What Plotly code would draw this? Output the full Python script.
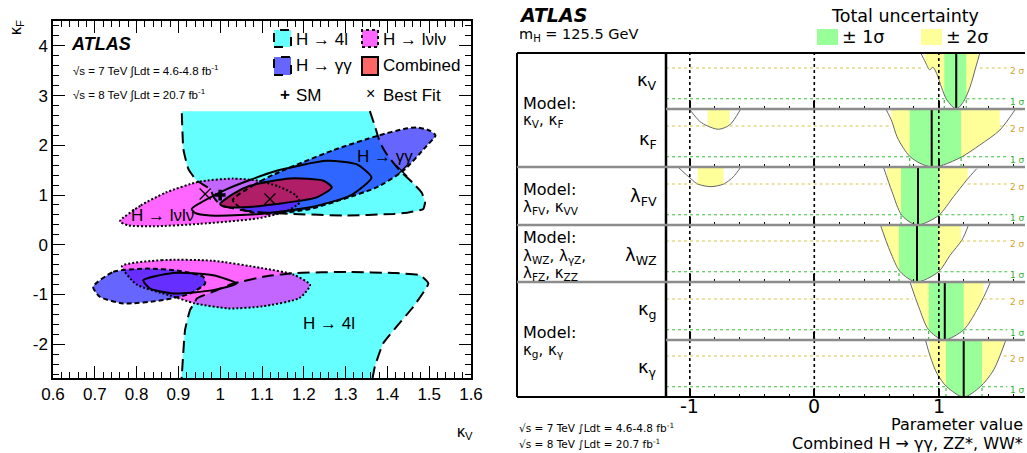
import numpy as np
import plotly.graph_objects as go

W, H = 1027, 453
FONT = "Liberation Sans"
FONT_R = "DejaVu Sans"

# ================= Left panel: kappa_F vs kappa_V contours =================
h4l_up_kv = [1.358, 1.370, 1.382, 1.400, 1.430, 1.460, 1.482, 1.490, 1.486, 1.450, 1.414, 1.295, 1.175, 1.100, 1.050, 1.000, 0.985, 0.976, 0.944, 0.924, 0.912, 0.908]
h4l_up_kf = [2.686, 2.390, 2.060, 1.800, 1.490, 1.250, 1.050, 0.850, 0.720, 0.650, 0.620, 0.587, 0.620, 0.650, 0.700, 0.800, 0.950, 1.120, 1.290, 1.520, 1.920, 2.686]
h4l_lo_kv = [0.906, 0.908, 0.916, 0.928, 0.940, 0.944, 0.990, 1.031, 1.111, 1.183, 1.303, 1.420, 1.478, 1.498, 1.462, 1.422, 1.390, 1.370, 1.360]
h4l_lo_kf = [-2.90, -2.65, -1.71, -1.31, -1.15, -1.08, -0.92, -0.78, -0.633, -0.567, -0.547, -0.57, -0.613, -0.78, -1.247, -1.647, -1.98, -2.45, -2.90]
lvlv_up_kv = [0.76, 0.81, 0.87, 0.95, 1.03, 1.09, 1.14, 1.18, 1.19, 1.16, 1.09, 0.95, 0.84, 0.78, 0.76]
lvlv_up_kf = [0.47, 0.79, 1.05, 1.27, 1.33, 1.29, 1.17, 1.00, 0.85, 0.68, 0.53, 0.42, 0.37, 0.39, 0.47]
lvlv_lo_kv = [0.765, 0.86, 0.98, 1.10, 1.175, 1.215, 1.19, 1.10, 1.02, 0.94, 0.88, 0.80, 0.765]
lvlv_lo_kf = [-0.43, -0.31, -0.32, -0.47, -0.60, -0.81, -1.07, -1.24, -1.28, -1.18, -1.02, -0.80, -0.43]
gg_up_kv = [1.03, 1.08, 1.13, 1.27, 1.38, 1.44, 1.47, 1.50, 1.515, 1.494, 1.438, 1.374, 1.295, 1.215, 1.119, 1.06, 1.03]
gg_up_kf = [0.90, 1.20, 1.42, 1.90, 2.20, 2.33, 2.36, 2.30, 2.20, 1.99, 1.487, 1.153, 0.92, 0.72, 0.62, 0.68, 0.90]
gg_lo_kv = [0.696, 0.744, 0.824, 0.904, 0.96, 0.964, 0.928, 0.864, 0.768, 0.712, 0.696]
gg_lo_kf = [-0.847, -0.547, -0.48, -0.527, -0.647, -0.78, -0.98, -1.113, -1.18, -1.047, -0.847]
comb68_up_kv = [1.0, 1.03, 1.071, 1.167, 1.247, 1.267, 1.231, 1.135, 1.055, 1.007, 1.0]
comb68_up_kf = [0.82, 1.02, 1.187, 1.333, 1.287, 1.153, 0.953, 0.82, 0.753, 0.773, 0.82]
comb95_up_kv = [0.932, 1.016, 1.135, 1.255, 1.326, 1.362, 1.311, 1.215, 1.095, 0.976, 0.94, 0.932]
comb95_up_kf = [0.72, 1.12, 1.487, 1.687, 1.62, 1.353, 0.987, 0.753, 0.62, 0.587, 0.64, 0.72]
comb95_lo_kv = [0.816, 0.888, 0.983, 1.039, 0.983, 0.888, 0.832, 0.816]
comb95_lo_kf = [-0.713, -0.567, -0.613, -0.78, -0.913, -0.98, -0.88, -0.713]
bestfit_kv = [1.119, 0.964, 1.434]
bestfit_kf = [0.92, 1.02, 1.49]
sm_kv = [1.0]
sm_kf = [1.0]
kv_ticks = [0.6, 0.7, 0.8, 0.9, 1.0, 1.1, 1.2, 1.3, 1.4, 1.5, 1.6]
kv_ticktext = ["0.6", "0.7", "0.8", "0.9", "1", "1.1", "1.2", "1.3", "1.4", "1.5", "1.6"]
kf_ticks = [-2, -1, 0, 1, 2, 3, 4]
kf_ticktext = ["-2", "-1", "0", "1", "2", "3", "4"]

# ================= Right panel: likelihood scans =================
param_labels = ["κ<sub>V</sub>", "κ<sub>F</sub>", "λ<sub>FV</sub>", "λ<sub>WZ</sub>", "κ<sub>g</sub>", "κ<sub>γ</sub>"]
kV_x = [0.851, 0.892, 0.926, 0.953, 0.985, 1.023, 1.064, 1.14, 1.199, 1.253, 1.293, 1.333, 1.36]
kV_y = [5.57, 4.57, 3.83, 4.07, 3.4, 2.07, 0.9, 0.0, 0.73, 2.23, 3.9, 5.57, 6.5]
kF_x = [0.578, 0.624, 0.664, 0.717, 0.77, 0.849, 0.943, 1.036, 1.186, 1.33, 1.49, 1.61]
kF_y = [5.6, 4.42, 2.96, 1.82, 1.0, 0.36, 0.0, 0.2, 1.0, 2.15, 3.6, 5.55]
kF2_x = [-1.0, -0.92, -0.857, -0.77, -0.68, -0.594]
kF2_y = [5.6, 4.45, 4.0, 3.68, 4.1, 5.6]
lFV_x = [0.557, 0.624, 0.704, 0.825, 0.998, 1.118, 1.225, 1.305]
lFV_y = [5.6, 3.26, 0.93, 0.0, 0.93, 2.76, 4.4, 5.5]
lFV2_x = [-1.09, -0.99, -0.937, -0.83, -0.728, -0.65, -0.594]
lFV2_y = [5.6, 4.5, 4.0, 3.74, 4.0, 4.7, 5.6]
lWZ_x = [0.53, 0.61, 0.69, 0.82, 0.998, 1.09, 1.186, 1.24]
lWZ_y = [5.6, 2.96, 1.0, 0.0, 1.0, 2.6, 4.1, 5.6]
kg_x = [0.77, 0.838, 0.918, 1.04, 1.2, 1.305, 1.373, 1.413]
kg_y = [5.6, 3.25, 1.0, 0.0, 1.0, 2.9, 4.5, 5.6]
kgam_x = [0.892, 0.932, 0.985, 1.064, 1.2, 1.333, 1.44, 1.54]
kgam_y = [5.6, 3.93, 2.3, 1.0, 0.0, 1.0, 2.63, 5.6]
best_fit = [1.14, 0.943, 0.833, 0.825, 1.048, 1.2]
band1_lo = [1.044, 0.766, 0.697, 0.68, 0.918, 1.058]
band1_hi = [1.221, 1.179, 1.005, 0.998, 1.2, 1.347]
band2_lo = [0.886, 0.618, 0.584, 0.544, 0.792, 0.926]
band2_hi = [1.329, 1.49, 1.232, 1.179, 1.36, 1.52]
second_band2_lo = [None, -0.857, -0.937, None, None, None]
second_band2_hi = [None, -0.68, -0.728, None, None, None]
ref_lines = [-1, 0, 1]
ref_labels = ["-1", "0", "1"]
sigma_levels = [1, 4]

scans = [[(kV_x, kV_y)], [(kF_x, kF_y), (kF2_x, kF2_y)], [(lFV_x, lFV_y), (lFV2_x, lFV2_y)],
         [(lWZ_x, lWZ_y)], [(kg_x, kg_y)], [(kgam_x, kgam_y)]]

# ----------------------------------------------------------------------
fig = go.Figure()

def pxx(x):
    return x / W

def pxy(y):
    return 1 - y / H

CYAN = "rgb(102,255,255)"
MAG = "rgba(255,0,255,0.6)"
BLUE = "rgba(16,16,255,0.64)"
RED = "rgb(176,30,104)"

def fill(xs, ys, color, smooth=0.6):
    fig.add_trace(go.Scatter(x=xs, y=ys, mode="lines", fill="toself", fillcolor=color,
                             line=dict(width=0, shape="spline", smoothing=smooth),
                             hoverinfo="skip", showlegend=False, xaxis="x", yaxis="y"))

def outline(xs, ys, dash, width=2, smooth=0.6):
    fig.add_trace(go.Scatter(x=xs, y=ys, mode="lines",
                             line=dict(width=width, color="black", dash=dash, shape="spline", smoothing=smooth),
                             hoverinfo="skip", showlegend=False, xaxis="x", yaxis="y"))

fill(h4l_up_kv, h4l_up_kf, CYAN, 0.4)
fill(h4l_lo_kv, h4l_lo_kf, CYAN, 0.4)
fill(lvlv_up_kv, lvlv_up_kf, MAG)
fill(lvlv_lo_kv, lvlv_lo_kf, MAG)
fill(gg_up_kv, gg_up_kf, BLUE)
fill(gg_lo_kv, gg_lo_kf, BLUE)
fill(comb68_up_kv, comb68_up_kf, RED)

outline(h4l_up_kv, h4l_up_kf, "12px,6px", 2, 0.4)
outline(h4l_lo_kv, h4l_lo_kf, "12px,6px", 2, 0.4)
outline(lvlv_up_kv, lvlv_up_kf, "2px,2px")
outline(lvlv_lo_kv, lvlv_lo_kf, "2px,2px")
outline(gg_up_kv, gg_up_kf, "5px,3px")
outline(gg_lo_kv, gg_lo_kf, "5px,3px")
outline(comb68_up_kv, comb68_up_kf, "solid")
outline(comb95_up_kv, comb95_up_kf, "solid")
outline(comb95_lo_kv, comb95_lo_kf, "solid")

fig.add_trace(go.Scatter(x=bestfit_kv, y=bestfit_kf, mode="markers",
                         marker=dict(symbol="x-thin", size=11, line=dict(width=1.3, color="black")),
                         hoverinfo="skip", showlegend=False, xaxis="x", yaxis="y"))
fig.add_trace(go.Scatter(x=sm_kv, y=sm_kf, mode="markers",
                         marker=dict(symbol="cross", size=9, color="black"),
                         hoverinfo="skip", showlegend=False, xaxis="x", yaxis="y"))

# --- right panel rows
row_px = [53, 109, 167, 225, 282, 340, 397]
UNIT = 10.25  # pixels per unit of -2 ln(Lambda)
XR = [(666 - 814.3) / 124.5, (1024 - 814.3) / 124.5]
YELLOW = "rgb(255,255,153)"
GREEN = "rgb(153,255,153)"
layout_axes = {}
annotations = []
shapes = []

for i in range(6):
    n = i + 2
    xa, ya = f"x{n}", f"y{n}"
    top = (row_px[i + 1] - row_px[i]) / UNIT
    def tr(**kw):
        fig.add_trace(go.Scatter(hoverinfo="skip", showlegend=False, xaxis=xa, yaxis=ya, **kw))
    bands = [(band2_lo[i], band2_hi[i], YELLOW), (band1_lo[i], band1_hi[i], GREEN)]
    if second_band2_lo[i] is not None:
        bands.append((second_band2_lo[i], second_band2_hi[i], YELLOW))
    for lo, hi, col in bands:
        tr(x=[lo, lo, hi, hi, lo], y=[0, top, top, 0, 0], mode="lines", fill="toself",
           fillcolor=col, line=dict(width=0))
    for cx, cy in scans[i]:
        tr(x=cx, y=cy, mode="lines", fill="tozeroy", fillcolor="white",
           line=dict(width=1, color="#666666", shape="spline", smoothing=0.8))
    hid2 = [(band2_lo[i], band2_hi[i])]
    if second_band2_lo[i] is not None:
        hid2.append((second_band2_lo[i], second_band2_hi[i]))
    hid1 = [(band1_lo[i], band1_hi[i])]
    for lev, hid, col in [(sigma_levels[1], hid2, "#d8c84a"), (sigma_levels[0], hid1, "#3cbf3c")]:
        xs, cur = [], XR[0]
        for a, b in sorted(hid):
            xs += [cur, a, None]
            cur = b
        xs += [cur, 1.55]
        ys = [None if v is None else lev for v in xs]
        tr(x=xs, y=ys, mode="lines", line=dict(width=1.2, color=col, dash="dot"), connectgaps=False)
    for v in (band1_lo[i], band1_hi[i]):
        tr(x=[v, v], y=[0, sigma_levels[0]], mode="lines", line=dict(width=1.2, color="#3cbf3c", dash="dot"))
    for r in ref_lines:
        tr(x=[r, r], y=[0, top], mode="lines", line=dict(width=1.6, color="black", dash="dot"))
    tr(x=[best_fit[i], best_fit[i]], y=[0, top], mode="lines", line=dict(width=2, color="black"))

    ytop, ybot = pxy(row_px[i]), pxy(row_px[i + 1])
    layout_axes[f"xaxis{n}"] = dict(domain=[666 / W, 1024 / W], range=XR, anchor=ya,
                                    showgrid=False, zeroline=False, showline=False,
                                    ticks="inside", ticklen=8, tickwidth=2, tickcolor="black",
                                    tickmode="array", tickvals=ref_lines, showticklabels=False,
                                    minor=dict(ticks="inside", ticklen=3, tickwidth=1, tickcolor="black",
                                               tickmode="linear", tick0=0, dtick=0.2))
    layout_axes[f"yaxis{n}"] = dict(domain=[ybot, ytop], range=[0, top], anchor=xa,
                                    showgrid=False, zeroline=False, showline=False,
                                    showticklabels=False, ticks="")
    annotations.append(dict(x=1.635, y=sigma_levels[1], xref=xa, yref=ya, text="2 σ", showarrow=False,
                            font=dict(size=9, color="#d4a22a", family=FONT_R), yshift=-3))
    annotations.append(dict(x=1.635, y=sigma_levels[0], xref=xa, yref=ya, text="1 σ", showarrow=False,
                            font=dict(size=9, color="#30b030", family=FONT_R), yshift=-3))

# bottom tick labels of the parameter axis
for v, lab in zip(ref_lines, ref_labels):
    annotations.append(dict(x=v, y=pxy(406), xref="x7", yref="paper", text=lab, showarrow=False,
                            xanchor="center", yanchor="middle",
                            font=dict(size=19, family=FONT_R, color="black")))

def txt(x, y, text, size, anchor="left", color="black", bold=False, italic=False, angle=0, family=FONT):
    if bold:
        text = f"<b>{text}</b>"
    if italic:
        text = f"<i>{text}</i>"
    annotations.append(dict(x=pxx(x), y=pxy(y), xref="paper", yref="paper", text=text, showarrow=False,
                            xanchor=anchor, yanchor="middle", textangle=angle,
                            font=dict(size=size, color=color, family=family)))

# left panel texts
txt(69, 44, "ATLAS", 18, bold=True, italic=True)
txt(71, 70, "√s = 7 TeV ∫Ldt = 4.6-4.8 fb<sup>-1</sup>", 11.5)
txt(71, 95, "√s = 8 TeV ∫Ldt = 20.7 fb<sup>-1</sup>", 11.5)
txt(294, 39, "H → 4l", 17)
txt(381, 39, "H → lνlν", 17)
txt(294, 66, "H → γγ", 17)
txt(381, 66, "Combined", 17)
txt(278, 95, "<b>+</b>", 17)
txt(294, 96, "SM", 17)
txt(364, 94, "×", 16)
txt(381, 96, "Best Fit", 17)
annotations.append(dict(x=1.394, y=1.78, xref="x", yref="y", text="H → γγ", showarrow=False,
                        font=dict(size=17, family=FONT, color="black")))
annotations.append(dict(x=0.861, y=0.58, xref="x", yref="y", text="H → lνlν", showarrow=False,
                        font=dict(size=17, family=FONT, color="black")))
annotations.append(dict(x=1.26, y=-1.58, xref="x", yref="y", text="H → 4l", showarrow=False,
                        font=dict(size=17, family=FONT, color="black")))
txt(455, 432, "κ<sub>V</sub>", 16)
txt(17, 28, "κ<sub>F</sub>", 16, anchor="center", angle=-90)

# right panel texts
txt(517, 15, "ATLAS", 19, bold=True, italic=True, family=FONT_R)
txt(517, 35, "m<sub>H</sub> = 125.5 GeV", 14.5, family=FONT_R)
txt(905, 16, "Total uncertainty", 17.5, anchor="center", family=FONT_R)
txt(840, 37, "± 1σ", 17.5, family=FONT_R)
txt(944, 37, "± 2σ", 17.5, family=FONT_R)
for lab, yy in zip(param_labels, [81, 140, 197, 256, 310, 368]):
    txt(659, yy, lab, 18, anchor="right", family=FONT_R)
for t, yy, s in [("Model:", 103, 16), ("κ<sub>V</sub>, κ<sub>F</sub>", 120, 15),
                 ("Model:", 189, 16), ("λ<sub>FV</sub>, κ<sub>VV</sub>", 207, 15),
                 ("Model:", 237, 16), ("λ<sub>WZ</sub>, λ<sub>γZ</sub>,", 256, 15),
                 ("λ<sub>FZ</sub>, κ<sub>ZZ</sub>", 273, 15),
                 ("Model:", 332, 16), ("κ<sub>g</sub>, κ<sub>γ</sub>", 350, 15)]:
    txt(521, yy, t, s, family=FONT_R)
txt(517, 427, "√s = 7 TeV ∫Ldt = 4.6-4.8 fb<sup>-1</sup>", 10.5, family=FONT_R)
txt(517, 443, "√s = 8 TeV ∫Ldt = 20.7 fb<sup>-1</sup>", 10.5, family=FONT_R)
txt(1025, 424, "Parameter value", 16, anchor="right", family=FONT_R)
txt(1025, 443, "Combined H → γγ, ZZ*, WW*", 16, anchor="right", family=FONT_R)

def rect(x0, y0, x1, y1, fillc, linec=None, dash="solid", lw=0):
    shapes.append(dict(type="rect", xref="paper", yref="paper", x0=pxx(x0), x1=pxx(x1), y0=pxy(y1), y1=pxy(y0),
                       fillcolor=fillc, line=dict(color=linec or "rgba(0,0,0,0)", width=lw, dash=dash),
                       layer="above"))

def line(x0, y0, x1, y1, color="black", w=2):
    shapes.append(dict(type="line", xref="paper", yref="paper", x0=pxx(x0), x1=pxx(x1), y0=pxy(y0), y1=pxy(y1),
                       line=dict(color=color, width=w), layer="above"))

rect(274, 30, 291, 47, "rgb(102,255,255)", "black", "dash", 2)
rect(362, 30, 378, 47, "rgb(255,102,255)", "black", "dot", 2)
rect(274, 57, 291, 75, "rgb(102,102,255)", "black", "dash", 2)
rect(362, 57, 378, 75, "rgb(255,102,102)", "black", "solid", 2)
rect(817, 29, 838, 45, GREEN)
rect(921, 29, 942, 45, YELLOW)
line(517, 53, 1025, 53)
line(517, 53, 517, 397)
line(517, 397, 1025, 397)
line(666, 53, 666, 397, w=2.5)
for yy, x0 in [(109, 666), (167, 517), (225, 517), (282, 517), (340, 666)]:
    line(x0, yy, 1025, yy, color="#8c8c8c", w=2.5)

fig.update_layout(
    width=W, height=H, margin=dict(l=0, r=0, t=0, b=0, autoexpand=False),
    paper_bgcolor="white", plot_bgcolor="rgba(0,0,0,0)",
    font=dict(family=FONT, color="black"),
    showlegend=False,
    xaxis=dict(domain=[53 / W, 471 / W], range=[0.6, 1.6], anchor="y", automargin=False,
               tickmode="array", tickvals=kv_ticks, ticktext=kv_ticktext,
               ticks="inside", ticklen=12, tickwidth=1, tickcolor="black", mirror="allticks",
               showline=True, linecolor="black", linewidth=1.5, showgrid=False, zeroline=False,
               tickfont=dict(size=17, family=FONT),
               minor=dict(ticks="inside", ticklen=6, tickwidth=1, tickcolor="black",
                          tickmode="linear", tick0=0.6, dtick=0.02)),
    yaxis=dict(domain=[pxy(378), pxy(21)], range=[-2.68, 4.5], anchor="x", automargin=False,
               tickmode="array", tickvals=kf_ticks, ticktext=kf_ticktext,
               ticks="inside", ticklen=12, tickwidth=1, tickcolor="black", mirror="allticks",
               showline=True, linecolor="black", linewidth=1.5, showgrid=False, zeroline=False,
               tickfont=dict(size=17, family=FONT),
               minor=dict(ticks="inside", ticklen=6, tickwidth=1, tickcolor="black",
                          tickmode="linear", tick0=0, dtick=0.2)),
    annotations=annotations, shapes=shapes,
    **layout_axes,
)

fig.write_html("out.html", config={"displayModeBar": False},
               post_script="document.body.style.margin='0';document.body.style.overflow='hidden';")
